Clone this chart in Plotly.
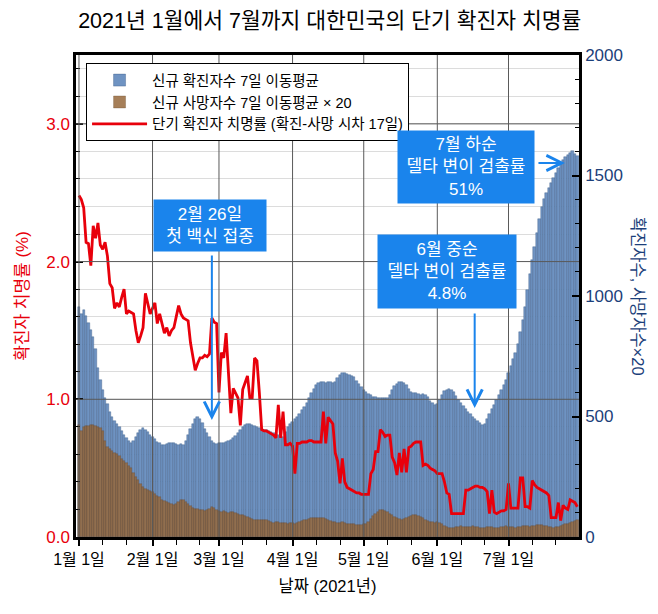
import pandas as pd
import plotly.graph_objects as go

# 7-day moving averages, daily from 2021-01-01
cases_7d = [
    955, 925, 940, 915, 890, 860, 830, 780, 700, 650,
    610, 575, 550, 520, 500, 480, 470, 455, 440, 425,
    410, 398, 392, 400, 415, 430, 445, 452, 445, 435,
    425, 415, 405, 395, 388, 382, 380, 385, 388, 390,
    388, 385, 382, 384, 383, 400, 425, 450, 470, 488,
    496, 490, 472, 450, 432, 415, 398, 390, 386, 388,
    390, 392, 394, 398, 402, 410, 420, 432, 445, 458,
    466, 470, 468, 464, 460, 456, 452, 448, 445, 442,
    438, 434, 430, 426, 422, 418, 415, 435, 455, 470,
    477, 488, 500, 512, 525, 540, 555, 575, 598, 615,
    630, 640, 645, 643, 640, 645, 642, 640, 645, 660,
    672, 680, 680, 676, 672, 670, 662, 648, 635, 622,
    612, 602, 594, 588, 583, 580, 578, 577, 578, 577,
    576, 590, 610, 625, 636, 642, 645, 640, 630, 615,
    602, 598, 596, 592, 590, 592, 588, 580, 566, 555,
    548, 552, 570, 590, 604, 612, 615, 612, 600, 585,
    570, 556, 542, 530, 520, 510, 500, 490, 480, 472,
    465, 470, 490, 510, 530, 548, 568, 590, 612, 632,
    652, 680, 710, 738, 765, 800, 850, 900, 955, 1025,
    1090, 1150, 1205, 1260, 1320, 1370, 1402, 1428, 1450, 1470,
    1490, 1510, 1530, 1550, 1565, 1575, 1585, 1595, 1600, 1590,
    1580,
]

deaths_7d_x20 = [
    465, 440, 455, 460, 462, 465, 465, 460, 455, 452,
    440, 400, 375, 365, 355, 350, 345, 335, 325, 315,
    307, 295, 285, 265, 250, 235, 220, 207, 200, 195,
    190, 187, 180, 172, 165, 155, 150, 145, 140, 135,
    133, 138, 145, 152, 154, 145, 135, 128, 122, 118,
    115, 112, 110, 108, 112, 118, 124, 120, 112, 106,
    104, 108, 104, 100, 102, 104, 100, 96, 92, 90,
    86, 82, 78, 74, 72, 72, 70, 71, 72, 70,
    66, 62, 60, 62, 64, 60, 58, 58, 56, 58,
    58, 56, 60, 64, 68, 70, 72, 76, 78, 80,
    79, 78, 79, 80, 76, 72, 68, 64, 62, 60,
    60, 62, 60, 56, 54, 52, 52, 50, 50, 50,
    52, 56, 64, 74, 86, 96, 104, 110, 112, 108,
    102, 96, 90, 84, 78, 74, 71, 74, 78, 82,
    86, 90, 91, 88, 84, 78, 72, 68, 64, 62,
    60, 62, 58, 52, 46, 40, 37, 36, 38, 40,
    42, 44, 42, 40, 41, 42, 44, 42, 40, 38,
    36, 38, 40, 42, 40, 38, 36, 38, 40, 42,
    44, 43, 42, 40, 38, 40, 42, 44, 46, 44,
    42, 44, 46, 48, 50, 48, 46, 44, 42, 40,
    38, 40, 42, 44, 48, 52, 56, 60, 64, 68,
    71,
]

# short-term case fatality rate (%)
cfr = [
    2.48, 2.45, 2.39, 2.14, 2.13, 1.97, 2.26, 2.17, 2.28, 2.12,
    2.09, 2.14, 2.04, 1.84, 1.81, 1.66, 1.70, 1.67, 1.74, 1.80,
    1.62, 1.64, 1.63, 1.62, 1.50, 1.41, 1.46, 1.52, 1.77, 1.70,
    1.62, 1.66, 1.70, 1.55, 1.62, 1.55, 1.48, 1.52, 1.46, 1.50,
    1.52, 1.60, 1.68, 1.62, 1.59, 1.58, 1.57, 1.41, 1.30, 1.21,
    1.26, 1.30, 1.30, 1.32, 1.31, 1.33, 1.59, 1.56, 1.55, 1.05,
    1.34, 1.30, 1.48, 1.20, 0.90, 1.08, 1.04, 1.01, 0.81, 1.07,
    1.12, 1.17, 1.01, 1.01, 1.30, 1.28, 1.05, 0.78, 0.77, 0.77,
    0.76, 0.75, 0.74, 0.72, 0.96, 0.72, 0.91, 0.67, 0.67, 0.68,
    0.66, 0.46, 0.68, 0.68, 0.69, 0.69, 0.69, 0.70, 0.70, 0.69,
    0.69, 0.69, 0.69, 0.91, 0.68, 0.87, 0.84, 0.82, 0.61, 0.55,
    0.39, 0.57, 0.40, 0.36, 0.35, 0.34, 0.33, 0.32, 0.32, 0.31,
    0.31, 0.31, 0.31, 0.46, 0.49, 0.62, 0.62, 0.78, 0.76, 0.73,
    0.74, 0.74, 0.58, 0.54, 0.45, 0.61, 0.47, 0.64, 0.47, 0.65,
    0.66, 0.68, 0.69, 0.69, 0.69, 0.52, 0.53, 0.52, 0.50, 0.49,
    0.48, 0.46, 0.46, 0.46, 0.40, 0.32, 0.31, 0.17, 0.17, 0.17,
    0.17, 0.17, 0.17, 0.34, 0.34, 0.35, 0.36, 0.37, 0.37, 0.36,
    0.36, 0.35, 0.33, 0.17, 0.34, 0.18, 0.17, 0.18, 0.19, 0.19,
    0.20, 0.39, 0.21, 0.21, 0.21, 0.21, 0.43, 0.43, 0.22, 0.22,
    0.21, 0.41, 0.38, 0.36, 0.35, 0.34, 0.33, 0.32, 0.30, 0.14,
    0.14, 0.14, 0.25, 0.12, 0.23, 0.21, 0.20, 0.27, 0.26, 0.25,
    0.22,
]

month_ticks = ["2021-01-01", "2021-02-01", "2021-03-01", "2021-04-01",
               "2021-05-01", "2021-06-01", "2021-07-01"]
month_labels = ["1월 1일", "2월 1일", "3월 1일", "4월 1일", "5월 1일", "6월 1일", "7월 1일"]
minor_ticks = ["2021-01-11", "2021-01-21", "2021-02-11", "2021-02-21", "2021-03-11", "2021-03-21",
               "2021-04-11", "2021-04-21", "2021-05-11", "2021-05-21", "2021-06-11", "2021-06-21",
               "2021-07-11", "2021-07-21"]
cfr_ticks = [0, 1, 2, 3]
count_ticks = [0, 500, 1000, 1500, 2000]

dates = pd.date_range("2021-01-01", periods=len(cases_7d), freq="D")

FONT = "Liberation Sans, Noto Sans CJK KR, sans-serif"
RED = "#e8000b"
NAVY = "#1c3f7a"
BOX = "#1a84ec"

fig = go.Figure()
fig.add_trace(go.Bar(
    x=dates, y=cases_7d, name="신규 확진자수 7일 이동평균",
    marker=dict(color="#6f93c2", line=dict(color="rgba(55,85,130,0.75)", width=0.5)),
    yaxis="y",
))
fig.add_trace(go.Bar(
    x=dates, y=deaths_7d_x20, name="신규 사망자수 7일 이동평균 × 20",
    marker=dict(color="rgba(150,105,60,0.85)", line=dict(color="rgba(100,70,40,0.6)", width=0.5)),
    yaxis="y",
))
fig.add_trace(go.Scatter(
    x=dates, y=cfr, name="단기 확진자 치명률 (확진-사망 시차 17일)",
    mode="lines", line=dict(color=RED, width=2.8), yaxis="y2",
))

# darker major grid drawn over the bars
for d in month_ticks:
    fig.add_shape(type="line", xref="x", yref="paper", x0=d, x1=d, y0=0, y1=1,
                  line=dict(color="#5a5a5a", width=1), layer="above")
for v in cfr_ticks[1:]:
    fig.add_shape(type="line", xref="paper", yref="y2", x0=0, x1=1, y0=v, y1=v,
                  line=dict(color="#5a5a5a", width=1), layer="above")

box_font = dict(family=FONT, size=17, color="white")
box = dict(xref="paper", yref="paper", xanchor="center", yanchor="middle",
           showarrow=False, bgcolor=BOX, font=box_font, borderpad=4)
fig.add_annotation(x=0.266, y=0.646, text="2월 26일<br>첫 백신 접종", width=104, height=43, **box)
fig.add_annotation(x=0.738, y=0.551, text="6월 중순<br>델타 변이 검출률<br>4.8%",
                   width=130, height=65, **box)
fig.add_annotation(x=0.775, y=0.768, text="7월 하순<br>델타 변이 검출률<br>51%",
                   width=128, height=64, **box)

arrow = dict(showarrow=True, text="", arrowhead=5, arrowsize=1.5, arrowwidth=2,
             arrowcolor=BOX, axref="pixel", ayref="pixel", xref="x", yref="y")
fig.add_annotation(x="2021-02-26", y=485, ax=0, ay=-166, **arrow)
fig.add_annotation(x="2021-06-16T18:00", y=535, ax=0, ay=-96, **arrow)
fig.add_annotation(x="2021-07-24T19:00", y=1552, ax=-28, ay=0, **arrow)

# right axis title reads top-to-bottom
fig.add_annotation(xref="paper", yref="paper", x=1.0, xshift=59, y=0.5, xanchor="center",
                   yanchor="middle", text="확진자수, 사망자수×20", textangle=90, showarrow=False,
                   font=dict(family=FONT, size=16.5, color=NAVY))

fig.update_layout(
    width=650, height=606,
    margin=dict(l=64, r=79, t=47, b=77),
    paper_bgcolor="white", plot_bgcolor="white",
    font=dict(family=FONT, size=15, color="black"),
    title=dict(text="2021년 1월에서 7월까지 대한민국의 단기 확진자 치명률",
               x=0.495, xanchor="center", y=0.980, yanchor="middle",
               font=dict(family=FONT, size=21.5, color="black")),
    barmode="overlay", bargap=0,
    showlegend=True,
    legend=dict(x=0.02, y=0.983, xanchor="left", yanchor="top",
                bgcolor="white", bordercolor="black", borderwidth=1, itemwidth=55,
                font=dict(family=FONT, size=14.5, color="black"), tracegroupgap=0),
    xaxis=dict(
        type="date", range=["2020-12-30T18:00", "2021-07-30T17:00"],
        tickmode="array", tickvals=month_ticks, ticktext=month_labels,
        ticks="outside", ticklen=6, tickwidth=1.5, tickcolor="black",
        tickfont=dict(family=FONT, size=16, color="black"),
        showgrid=False, showline=True, linecolor="black", linewidth=2.5, mirror=True,
        minor=dict(tickmode="array", tickvals=minor_ticks, ticks="outside",
                   ticklen=5, tickwidth=1.2, tickcolor="black", showgrid=False),
        title=dict(text="날짜 (2021년)", font=dict(family=FONT, size=16.5, color="black"), standoff=14),
    ),
    yaxis=dict(
        side="right", range=[0, 2000], tickmode="array", tickvals=count_ticks,
        ticks="inside", ticklen=7, tickwidth=1.5, tickcolor="black",
        tickfont=dict(family=FONT, size=17, color=NAVY),
        showgrid=False, zeroline=False, showline=True, linecolor="black", linewidth=2.5,
        minor=dict(dtick=100, ticks="inside", ticklen=4, tickwidth=1.2, tickcolor="black", showgrid=False),
    ),
    yaxis2=dict(
        overlaying="y", side="left", range=[0, 3.5], tickmode="array", tickvals=cfr_ticks,
        tickformat=".1f",
        ticks="inside", ticklen=7, tickwidth=1.5, tickcolor="black",
        tickfont=dict(family=FONT, size=17, color=RED),
        showgrid=False, zeroline=False, showline=True, linecolor="black", linewidth=2.5,
        minor=dict(dtick=0.2, ticks="inside", ticklen=4, tickwidth=1.2, tickcolor="black",
                   showgrid=True, gridcolor="#dcdcdc", gridwidth=1),
        title=dict(text="확진자 치명률 (%)", font=dict(family=FONT, size=17, color=RED), standoff=14),
    ),
)

fig.write_html("out.html")
